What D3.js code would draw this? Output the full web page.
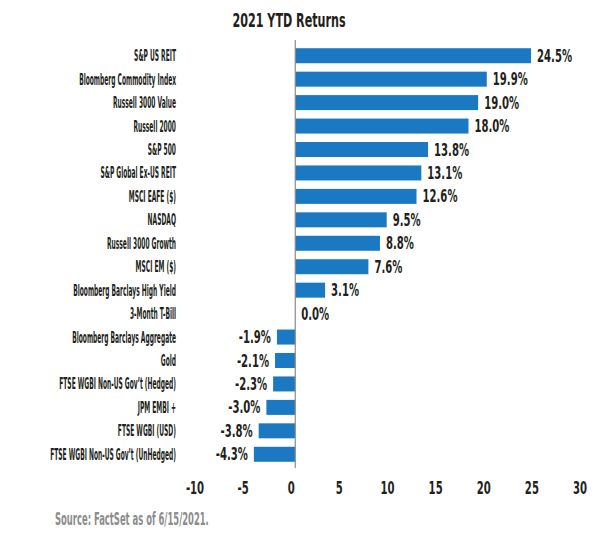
<!DOCTYPE html>
<html>
<head>
<meta charset="utf-8">
<script src="https://cdn.jsdelivr.net/npm/d3@7"></script>
<style>
  body { margin: 0; background: #fff; }
  svg text { font-family: "Liberation Sans Narrow", "DejaVu Sans Condensed", sans-serif; font-weight: bold; }
</style>
</head>
<body>
<svg id="chart" width="602" height="540"></svg>
<script>
const categories = ['S&P US REIT', 'Bloomberg Commodity Index', 'Russell 3000 Value', 'Russell 2000',
    'S&P 500', 'S&P Global Ex-US REIT', 'MSCI EAFE ($)', 'NASDAQ', 'Russell 3000 Growth',
    'MSCI EM ($)', 'Bloomberg Barclays High Yield', '3-Month T-Bill', 'Bloomberg Barclays Aggregate',
    'Gold', 'FTSE WGBI Non-US Gov\u2019t (Hedged)', 'JPM EMBI +', 'FTSE WGBI (USD)',
    'FTSE WGBI Non-US Gov\u2019t (UnHedged)'];

const values = [24.5, 19.9, 19.0, 18.0, 13.8, 13.1, 12.6, 9.5, 8.8, 7.6, 3.1, 0.0,
    -1.9, -2.1, -2.3, -3.0, -3.8, -4.3];

const ticks = [-10, -5, 0, 5, 10, 15, 20, 25, 30];

const svg = d3.select('#chart');

const xScale = d3.scaleLinear()
    .domain([-10, 30])
    .range([199, 584]);

const yScale = d3.scaleBand()
    .domain(categories)
    .range([44, 466])
    .paddingInner(0.36)
    .paddingOuter(0.18);

// title (text is squeezed sideways to get the condensed look)
svg.append('text')
    .attr('transform', 'translate(289,27) scale(0.62,1)')
    .attr('text-anchor', 'middle')
    .style('font-size', '20px')
    .style('fill', '#231f20')
    .text('2021 YTD Returns');

// bars
svg.append('g')
    .selectAll('rect')
    .data(values)
    .enter().append('rect')
    .attr('x', d => xScale(Math.min(0, d)))
    .attr('y', (d, i) => yScale(categories[i]))
    .attr('width', d => Math.abs(xScale(d) - xScale(0)))
    .attr('height', yScale.bandwidth())
    .style('fill', '#1b79c3');

// zero line
svg.append('line')
    .attr('x1', xScale(0)).attr('x2', xScale(0))
    .attr('y1', 40).attr('y2', 468)
    .style('stroke', '#8a8a8a')
    .style('stroke-width', 1.2);

// category labels
svg.append('g')
    .selectAll('text')
    .data(categories)
    .enter().append('text')
    .attr('transform', d => 'translate(176,' + (yScale(d) + yScale.bandwidth() / 2 + 5.5) + ') scale(0.44,1)')
    .attr('text-anchor', 'end')
    .style('font-size', '15px')
    .style('fill', '#231f20')
    .text(d => d);

// value labels
svg.append('g')
    .selectAll('text')
    .data(values)
    .enter().append('text')
    .attr('transform', (d, i) => {
        const x = d >= 0 ? xScale(d) + 6 : xScale(d) - 6;
        return 'translate(' + x + ',' + (yScale(categories[i]) + yScale.bandwidth() / 2 + 6) + ') scale(0.64,1)';
    })
    .attr('text-anchor', d => d >= 0 ? 'start' : 'end')
    .style('font-size', '17.5px')
    .style('fill', '#231f20')
    .text(d => d.toFixed(1) + '%');

// x axis tick labels
svg.append('g')
    .selectAll('text')
    .data(ticks)
    .enter().append('text')
    .attr('transform', d => 'translate(' + (xScale(d) - 4) + ',494) scale(0.64,1)')
    .attr('text-anchor', 'middle')
    .style('font-size', '17.5px')
    .style('fill', '#231f20')
    .text(d => d);

// source
svg.append('text')
    .attr('transform', 'translate(55,525) scale(0.52,1)')
    .style('font-size', '18px')
    .style('fill', '#8c8c8c')
    .text('Source: FactSet as of 6/15/2021.');
</script>
</body>
</html>
